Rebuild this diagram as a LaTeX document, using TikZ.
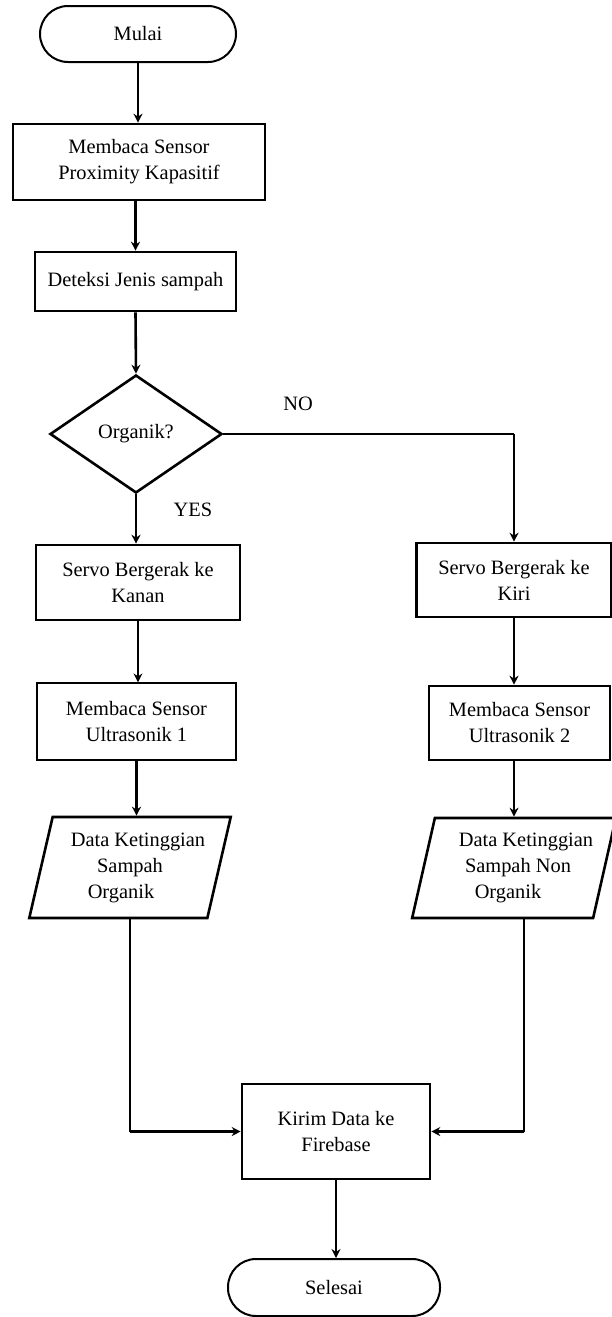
\documentclass[tikz,border=0pt]{standalone}
\usepackage{fontspec}
\setmainfont{Liberation Serif}
\usetikzlibrary{calc,arrows.meta,shapes.geometric}

\tikzset{
  every node/.style={font=\fontsize{10.2}{13}\selectfont, align=center},
  thick line/.style={line width=1.3pt},
  thin line/.style={line width=0.6pt},
  box/.style={draw, rectangle, thick line, inner sep=2pt},
  thinbox/.style={draw, rectangle, thin line, inner sep=2pt},
  terminal/.style={draw, rectangle, rounded corners=14pt, line width=1pt},
  decision/.style={draw, diamond, aspect=1.46, thick line, inner sep=0pt},
  io/.style={draw, trapezium, trapezium left angle=72, trapezium right angle=108,
    trapezium stretches=true, thick line, inner sep=0pt},
  arrow/.style={-{Stealth[length=4.5pt, width=4.5pt]}}
}

\begin{document}
\begin{tikzpicture}[x=0.5pt, y=-0.5pt]
		%%%%% START %%%%%
		\useasboundingbox (0,0) rectangle (611,1317);
		
		\node[terminal, minimum width=98pt, minimum height=28pt] (start) at (138,34) {Mulai};
		\node[box, minimum width=126pt, minimum height=38pt] (proxy) at (139,162) {Membaca Sensor\\Proximity Kapasitif};
		\node[box, minimum width=100.5pt, minimum height=29.5pt] (jenis) at (135.5,281.5) {Deteksi Jenis sampah};
		\node[decision, minimum width=86pt, minimum height=59pt] (organik) at (136,434) {Organik?};
		
		\node (no) at (298,404) {NO};
		\node (yes) at (193,510) {YES};
		
		\node[box, minimum width=102pt, minimum height=37.5pt] (kanan) at (138,582.5) {Servo Bergerak ke\\Kanan};
		\node[box, minimum width=97.5pt, minimum height=37pt] (kiri) at (514,580) {Servo Bergerak ke\\Kiri};
		
		\node[thinbox, minimum width=99.5pt, minimum height=38.5pt] (ultraA) at (136.5,721.5) {Membaca Sensor\\Ultrasonik 1};
		\node[box, minimum width=90.5pt, minimum height=37pt] (ultraB) at (519.5,723) {Membaca Sensor\\Ultrasonik 2};
		
		\node[io, minimum width=101pt, minimum height=50.5pt] (dataA) at (130,867.5)
			{\hspace*{8pt}Data Ketinggian\\Sampah\\Organik\hspace*{9pt}};
		\node[io, minimum width=96pt, minimum height=50pt] (dataB) at (514,868)
			{\hspace*{12pt}Data Ketinggian\\\hspace*{4pt}Sampah Non\\Organik\hspace*{6pt}};
		
		\node[box, minimum width=94pt, minimum height=47.5pt] (kirim) at (336,1131.5) {Kirim Data ke\\Firebase};
		\node[terminal, minimum width=106pt, minimum height=28.5pt] (selesai) at (334,1287.5) {Selesai};
		
		\coordinate (nobend) at (kiri.north |- organik.east);
		\coordinate (lbend) at (dataA.south |- kirim.west);
		\coordinate (rdrop) at ([xshift=5pt]dataB.south);
		\coordinate (rbend) at (rdrop |- kirim.east);
		
		\draw[thin line, arrow] (start.south) -- (start.south |- proxy.north);
		\draw[thick line, arrow] (jenis.north |- proxy.south) -- (jenis.north);
		\draw[thick line, arrow] (jenis.south) -- (organik.north);
		\draw[thick line, arrow] (organik.south) -- (organik.south |- kanan.north);
		
		\draw[thick line] (organik.east) -- (nobend);
		\draw[thin line, arrow] (nobend) -- (kiri.north);
		
		\draw[thick line, arrow] (kanan.south) -- (kanan.south |- ultraA.north);
		\draw[thick line, arrow] (kiri.south) -- (kiri.south |- ultraB.north);
		\draw[thick line, arrow] (ultraA.south) -- (ultraA.south |- dataA.north);
		\draw[thin line, arrow] (kiri.south |- ultraB.south) -- (kiri.south |- dataB.north);
		
		\draw[thin line] (dataA.south) -- (lbend);
		\draw[thick line, arrow] (lbend) -- (kirim.west);
		\draw[line width=0.9pt] (rdrop) -- (rbend);
		\draw[thick line, arrow] (rbend) -- (kirim.east);
		
		\draw[thick line, arrow] (kirim.south) -- (kirim.south |- selesai.north);
		
		%%%%% END %%%%%
	\end{tikzpicture}
\end{document}
